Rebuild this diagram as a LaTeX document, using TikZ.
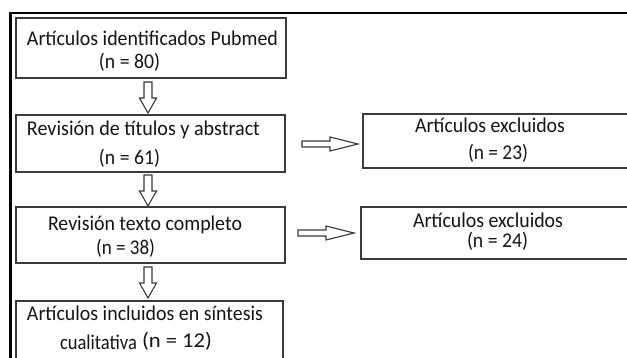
\documentclass[tikz,border=0pt]{standalone}
\usepackage{graphicx}
\usepackage{fontspec}
\setmainfont{Carlito}
\definecolor{boxc}{HTML}{3A3A3A}
\definecolor{txtc}{HTML}{141414}
\newcommand\fitw[2]{\resizebox{#1}{\height}{#2}}
\begin{document}
\begin{tikzpicture}[x=1pt,y=-1pt,
  box/.style={draw=boxc, line width=1.1pt, rectangle, inner sep=0pt, outer sep=0pt, anchor=north west},
  txt/.style={anchor=base west, inner sep=0pt, outer sep=0pt, text=txtc, font=\fontsize{21}{25}\selectfont},
  blk/.style={draw=boxc, line width=1.1pt, fill=white, line join=miter},
  downarr/.pic={\draw[blk] (-4,0) -- (4,0) -- (4,16) -- (8.5,16) -- (0,31) -- (-8.5,16) -- (-4,16) -- cycle;},
  rightarr/.pic={\draw[blk] (0,-3) -- (28,-3) -- (28,-7) -- (56,0) -- (28,7) -- (28,3) -- (0,3) -- cycle;}
]
\useasboundingbox (0,0) rectangle (627,358);
\clip (0,0) rectangle (627,358);
% outer frame
\draw[line width=2.6pt, black] (10.5,370) -- (10.5,13) -- (640,13);
% boxes
\node[box, minimum width=270pt, minimum height=60pt] (b1) at (16,18) {};
\node[box, minimum width=269pt, minimum height=57pt] (b2) at (16,115) {};
\node[box, minimum width=269pt, minimum height=56pt] (b3) at (16,207) {};
\node[box, minimum width=267pt, minimum height=80pt] (b4) at (16,301) {};
\node[box, minimum width=290pt, minimum height=54pt] (ea) at (363,114) {};
\node[box, minimum width=290pt, minimum height=52pt] (eb) at (361,207) {};
% texts
\node[txt] (t1a) at (27,45.5) {\fitw{251pt}{Artículos identificados Pubmed}};
\node[txt] (t1b) at (99,69) {\fitw{61pt}{(n = 80)}};
\node[txt] (t2a) at (27,136) {\fitw{233pt}{Revisión de títulos y abstract}};
\node[txt] (t2b) at (99,165) {\fitw{61pt}{(n = 61)}};
\node[txt] (t3a) at (48,231) {\fitw{194pt}{Revisión texto completo}};
\node[txt] (t3b) at (96,255) {\fitw{59pt}{(n = 38)}};
\node[txt] (t4a) at (27,320.5) {\fitw{236pt}{Artículos incluidos en síntesis}};
\node[txt] (t4b) at (60,349) {\fitw{77pt}{cualitativa}};
\node[txt] (t4c) at (142,347.5) {\fitw{70pt}{(n = 12)}};
\node[txt] (tea) at (415,133) {\fitw{150pt}{Artículos excluidos}};
\node[txt] (teb) at (468,160) {\fitw{60pt}{(n = 23)}};
\node[txt] (tfa) at (413,228) {\fitw{150pt}{Artículos excluidos}};
\node[txt] (tfb) at (467,248) {\fitw{61pt}{(n = 24)}};
% arrows
\pic at (148,82) {downarr};
\pic at (148,175) {downarr};
\pic at (148,267) {downarr};
\pic at (302,144) {rightarr};
\pic at (298,233) {rightarr};
\end{tikzpicture}
\end{document}
